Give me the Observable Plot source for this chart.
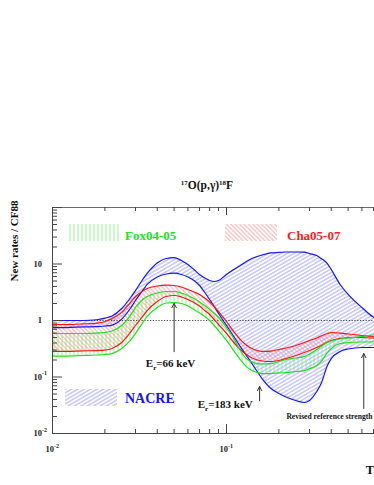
<!DOCTYPE html>
<html>
<head>
<meta charset="utf-8">
<script src="https://cdn.jsdelivr.net/npm/d3@7"></script>
<script src="https://cdn.jsdelivr.net/npm/@observablehq/plot@0.6"></script>
<style>
  html, body { margin: 0; padding: 0; background: #fff; overflow: hidden; width: 374px; height: 485px; }
  #chart { width: 400px; height: 485px; }
  #chart svg { display: block; max-width: none !important; width: 400px !important; height: 485px !important; }
</style>
</head>
<body>
<svg width="0" height="0" style="position:absolute">
  <defs>
    <pattern id="hatchBlue" patternUnits="userSpaceOnUse" width="10" height="3.2" patternTransform="rotate(-30)">
      <line x1="0" y1="1.6" x2="10" y2="1.6" stroke="#8080ff" stroke-width="0.75"/>
    </pattern>
    <pattern id="hatchRed" patternUnits="userSpaceOnUse" width="10" height="3.1" patternTransform="rotate(45)">
      <line x1="0" y1="1.5" x2="10" y2="1.5" stroke="#ff8080" stroke-width="0.75"/>
    </pattern>
    <pattern id="hatchGreen" patternUnits="userSpaceOnUse" width="4" height="10">
      <line x1="2" y1="0" x2="2" y2="10" stroke="#70ee70" stroke-width="0.75"/>
    </pattern>
  </defs>
</svg>
<div id="chart"></div>
<script>
// Temperature T9
const T9 = [0.01,0.012,0.015,0.018,0.02,0.022,0.025,0.028,0.03,0.033,0.035,0.04,0.045,0.05,0.055,0.06,0.065,0.07,0.075,0.08,0.085,0.09,0.1,0.11,0.12,0.13,0.14,0.15,0.16,0.18,0.2,0.22,0.25,0.28,0.3,0.33,0.35,0.38,0.4,0.45,0.5,0.6,0.7,0.8];
// NACRE band (upper / lower)
const nacreHigh = [1.00,1.00,1.00,1.03,1.10,1.20,1.63,2.50,3.40,5.32,6.79,10.4,12.5,13.0,11.5,9.8,8.0,6.52,5.65,5.1,4.9,5.1,6.52,8.0,9.4,11.1,12.5,13.6,14.4,15.7,16.0,16.3,16.3,16.2,15.3,14.1,12.5,10.2,8.0,4.34,2.9,1.70,1.15,1.04];
const nacreLow = [0.75,0.75,0.77,0.78,0.80,0.83,1.06,1.63,2.26,3.40,4.34,5.89,6.65,6.87,6.52,5.89,5.1,4.16,3.13,2.35,1.77,1.33,0.816,0.521,0.347,0.240,0.173,0.125,0.094,0.0626,0.051,0.0443,0.0384,0.0354,0.0384,0.0554,0.0767,0.160,0.212,0.283,0.313,0.333,0.333,0.333];
// Cha05-07 band
const chaHigh = [0.85,0.85,0.87,0.90,0.96,1.08,1.39,2.08,2.66,3.33,3.69,4.08,4.22,4.16,3.92,3.54,3.2,2.89,2.5,2.13,1.77,1.44,0.96,0.64,0.46,0.37,0.32,0.294,0.283,0.288,0.307,0.326,0.361,0.408,0.443,0.49,0.532,0.589,0.613,0.60,0.577,0.543,0.521,0.51];
const chaLow = [0.283,0.283,0.29,0.294,0.30,0.32,0.408,0.613,0.816,1.18,1.50,2.17,2.66,2.77,2.61,2.35,2.08,1.81,1.50,1.28,1.04,0.85,0.589,0.408,0.307,0.25,0.217,0.20,0.192,0.188,0.196,0.212,0.240,0.271,0.294,0.333,0.361,0.416,0.443,0.48,0.50,0.50,0.49,0.49];
// Fox04-05 band
const foxHigh = [0.589,0.589,0.589,0.60,0.613,0.652,0.816,1.23,1.70,2.35,2.66,3.07,3.26,3.26,3.07,2.77,2.45,2.13,1.84,1.57,1.33,1.13,0.752,0.48,0.294,0.212,0.184,0.173,0.170,0.173,0.188,0.204,0.217,0.231,0.255,0.307,0.347,0.408,0.434,0.471,0.49,0.521,0.554,0.565];
const foxLow = [0.235,0.235,0.240,0.245,0.25,0.26,0.32,0.443,0.589,0.92,1.18,1.70,2.04,2.08,2.0,1.81,1.57,1.36,1.18,1.0,0.816,0.665,0.443,0.294,0.204,0.153,0.130,0.120,0.115,0.115,0.118,0.120,0.125,0.130,0.141,0.160,0.188,0.271,0.32,0.392,0.408,0.416,0.416,0.416];

// axis ticks
const xMajor = [0.01, 0.1, 1];
const xMinor = [0.02,0.03,0.04,0.05,0.06,0.07,0.08,0.09,0.2,0.3,0.4,0.5,0.6,0.7,0.8,0.9];
const yMajor = [0.01, 0.1, 1, 10, 100];
const yMinor = [0.02,0.03,0.04,0.05,0.06,0.07,0.08,0.09,0.2,0.3,0.4,0.5,0.6,0.7,0.8,0.9,2,3,4,5,6,7,8,9,20,30,40,50,60,70,80,90];
const yTickLabels = [{v: 10, base: "10", sup: ""}, {v: 1, base: "1", sup: ""}, {v: 0.1, base: "10", sup: "-1"}, {v: 0.01, base: "10", sup: "-2"}];
const xTickLabels = [{v: 0.01, base: "10", sup: "-2"}, {v: 0.1, base: "10", sup: "-1"}];

// arrows (T9, ratio from / to)
const arrows = [
  {x: 0.05, y1: 0.28, y2: 2.0},
  {x: 0.155, y1: 0.038, y2: 0.068},
  {x: 0.615, y1: 0.0277, y2: 0.26}
];
const notes = [
  {x: 0.048, y: 0.147, main: "E", sub: "r", rest: "=66 keV", size: 11},
  {x: 0.099, y: 0.0277, main: "E", sub: "r", rest: "=183 keV", size: 11},
  {x: 0.393, y: 0.0177, main: "Revised reference strength", sub: "", rest: "", size: 7.6}
];

const rows = T9.map((t, i) => ({t, nh: nacreHigh[i], nl: nacreLow[i], ch: chaHigh[i], cl: chaLow[i], fh: foxHigh[i], fl: foxLow[i]}));

const W = 400, H = 485, mL = 52, mT = 207, mB = 52;
const plotH = H - mT - mB, plotW = W - mL;
const axisColor = "#444";
const curve = "monotone-x";

const chart = Plot.plot({
  width: W, height: H,
  marginLeft: mL, marginRight: 0, marginTop: mT, marginBottom: mB,
  x: {type: "log", domain: [0.01, 1], axis: null},
  y: {type: "log", domain: [0.01, 100], axis: null},
  style: {background: "white", fontFamily: "'Liberation Serif', serif", maxWidth: "none"},
  marks: [
    Plot.areaY(rows, {x: "t", y1: "nl", y2: "nh", fill: "url(#hatchBlue)", curve}),
    Plot.areaY(rows, {x: "t", y1: "cl", y2: "ch", fill: "url(#hatchRed)", curve}),
    Plot.areaY(rows, {x: "t", y1: "fl", y2: "fh", fill: "url(#hatchGreen)", curve}),
    Plot.ruleY([1], {stroke: "#333", strokeWidth: 0.9, strokeDasharray: "1.2,1.6"}),
    Plot.line(rows, {x: "t", y: "nh", stroke: "#1414ff", strokeWidth: 1.2, curve}),
    Plot.line(rows, {x: "t", y: "nl", stroke: "#1414ff", strokeWidth: 1.2, curve}),
    Plot.line(rows, {x: "t", y: "ch", stroke: "#ff1414", strokeWidth: 1.2, curve}),
    Plot.line(rows, {x: "t", y: "cl", stroke: "#ff1414", strokeWidth: 1.2, curve}),
    Plot.line(rows, {x: "t", y: "fh", stroke: "#1ee01e", strokeWidth: 1.2, curve}),
    Plot.line(rows, {x: "t", y: "fl", stroke: "#1ee01e", strokeWidth: 1.2, curve}),
    Plot.arrow(arrows, {x: "x", y1: "y1", y2: "y2", x1: "x", x2: "x", stroke: "#333", strokeWidth: 1, headLength: 7, headAngle: 55}),
    // frame lines
    Plot.ruleY([0.01], {stroke: axisColor, strokeWidth: 1}),
    Plot.ruleY([100], {stroke: axisColor, strokeWidth: 0.8}),
    Plot.ruleX([0.01], {stroke: axisColor, strokeWidth: 1}),
    // bottom ticks
    Plot.ruleX(xMajor, {stroke: axisColor, insetTop: plotH - 9}),
    Plot.ruleX(xMinor, {stroke: axisColor, insetTop: plotH - 4}),
    // top ticks
    Plot.ruleX(xMajor, {stroke: axisColor, insetBottom: plotH - 8}),
    Plot.ruleX(xMinor, {stroke: axisColor, insetBottom: plotH - 4}),
    // left ticks
    Plot.ruleY(yMajor, {stroke: axisColor, insetRight: plotW - 10}),
    Plot.ruleY(yMinor, {stroke: axisColor, insetRight: plotW - 5})
  ]
});

document.getElementById("chart").appendChild(chart);

const sx = chart.scale("x"), sy = chart.scale("y");
const svg = d3.select(chart);
const font = "'Liberation Serif', 'Times New Roman', serif";
const g = svg.append("g").attr("font-family", font).attr("font-weight", "bold").attr("text-anchor", "start");

// y tick labels (base right edge at x = 42, superscript after)
for (const d of yTickLabels) {
  const y = sy.apply(d.v);
  const bw = d.base.length * 4.3;
  const t = g.append("text").attr("x", 42 - bw).attr("y", y + 3).attr("font-size", 8.5).attr("fill", "#222");
  t.append("tspan").text(d.base);
  if (d.sup) t.append("tspan").attr("font-size", 6).attr("dy", -4.5).text(d.sup);
}
// x tick labels
for (const d of xTickLabels) {
  const x = sx.apply(d.v);
  const t = g.append("text").attr("x", x - 6.5).attr("y", 452).attr("font-size", 8.5).attr("fill", "#222");
  t.append("tspan").text(d.base);
  if (d.sup) t.append("tspan").attr("font-size", 6).attr("dy", -4.5).text(d.sup);
}

// title
const title = g.append("text").attr("x", 207).attr("y", 189).attr("text-anchor", "middle").attr("font-size", 11.5).attr("fill", "#111");
title.append("tspan").attr("font-size", 7).attr("dy", -4).text("17");
title.append("tspan").attr("dy", 4).text("O(p,γ)");
title.append("tspan").attr("font-size", 7).attr("dy", -4).text("18");
title.append("tspan").attr("dy", 4).text("F");

// y axis label
g.append("text").attr("transform", "translate(18,241) rotate(-90)").attr("text-anchor", "middle").attr("font-size", 11).attr("fill", "#111").text("New rates / CF88");
// x axis label
g.append("text").attr("x", 370).attr("y", 474).attr("text-anchor", "middle").attr("font-size", 12.5).attr("fill", "#111").text("T");

// annotations
for (const n of notes) {
  const t = g.append("text").attr("x", sx.apply(n.x)).attr("y", sy.apply(n.y)).attr("text-anchor", "middle").attr("font-size", n.size).attr("fill", "#111");
  t.append("tspan").text(n.main);
  if (n.sub) {
    t.append("tspan").attr("font-size", n.size * 0.65).attr("dy", 3).text(n.sub);
    t.append("tspan").attr("dy", -3).text(n.rest);
  }
}

// legends
const legends = [
  {x: 67, y: 224, fill: "url(#hatchGreen)", label: "Fox04-05", color: "#22e022", tx: 125, ty: 240, size: 13},
  {x: 225, y: 224, fill: "url(#hatchRed)", label: "Cha05-07", color: "#ff1a1a", tx: 287, ty: 240, size: 13},
  {x: 65, y: 389, fill: "url(#hatchBlue)", label: "NACRE", color: "#1414ff", tx: 125, ty: 403, size: 14}
];
for (const l of legends) {
  g.append("rect").attr("x", l.x).attr("y", l.y).attr("width", 52).attr("height", 17).attr("fill", l.fill);
  g.append("text").attr("x", l.tx).attr("y", l.ty).attr("font-size", l.size).attr("fill", l.color).text(l.label);
}
</script>
</body>
</html>
